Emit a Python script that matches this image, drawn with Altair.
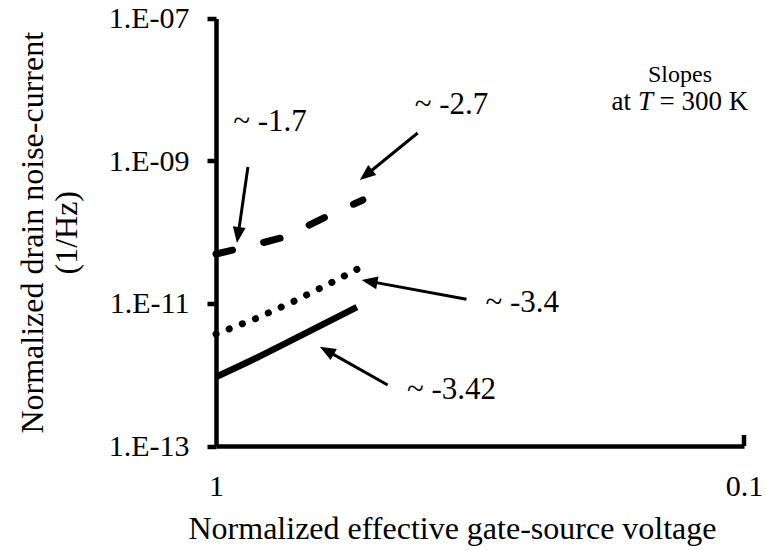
import math
import altair as alt
import pandas as pd

# ---------------- data ----------------
X_TICKS = [1, 0.1]
X_TICK_LABELS = ["1", "0.1"]
Y_TICKS = [1e-13, 1e-11, 1e-9, 1e-7]
Y_TICK_LABELS = ["1.E-13", "1.E-11", "1.E-09", "1.E-07"]

DASHED_X = [1.0, 0.862, 0.741, 0.609, 0.527]
DASHED_Y = [4.95e-11, 6.41e-11, 8.57e-11, 1.75e-10, 2.84e-10]
DOTTED_X = [1.0, 0.838, 0.709, 0.60, 0.535]
DOTTED_Y = [3.73e-12, 6.2e-12, 1.09e-11, 2.02e-11, 3.15e-11]
SOLID_X = [1.0, 0.862, 0.75, 0.541]
SOLID_Y = [9.3e-13, 1.56e-12, 2.61e-12, 8.9e-12]

SLOPE_LABELS = ["~ -1.7", "~ -2.7", "~ -3.4", "~ -3.42"]
LABEL_X = [0.790, 0.358, 0.263, 0.358]
LABEL_Y = [3.56e-9, 6.11e-9, 1.02e-11, 6.1e-13]
ARROW_TAIL_X = [0.870, 0.415, 0.3354, 0.473]
ARROW_TAIL_Y = [8.24e-10, 2.47e-9, 1.15e-11, 7.18e-13]
ARROW_TIP_X = [0.9127, 0.534, 0.530, 0.636]
ARROW_TIP_Y = [7.06e-11, 5.41e-10, 2.14e-11, 2.48e-12]

NOTE_X = 0.1322
NOTE_Y1 = 1.61e-8
NOTE_Y2 = 6.73e-9

X_TITLE = "Normalized effective gate-source voltage"
Y_TITLE = ["Normalized drain noise-current", "(1/Hz)"]

# ---------------- layout ----------------
W, H = 528, 427.5
FONT = "Liberation Serif"
PX_X = W / 1.0      # px per decade on x (1 decade)
PX_Y = H / 6.0      # px per decade on y (6 decades)
HEAD_R = 8          # arrow-head half length in px

def to_px(x, y):
    return -math.log10(x) * PX_X, -math.log10(y) * PX_Y

def from_px(px, py):
    return 10 ** (-px / PX_X), 10 ** (-py / PX_Y)

rows = []
for tx, ty, hx, hy in zip(ARROW_TAIL_X, ARROW_TAIL_Y, ARROW_TIP_X, ARROW_TIP_Y):
    ax, ay = to_px(tx, ty)
    bx, by = to_px(hx, hy)
    dx, dy = bx - ax, by - ay
    L = math.hypot(dx, dy)
    cx, cy = bx - HEAD_R * dx / L, by - HEAD_R * dy / L
    mx, my = from_px(cx, cy)
    ang = math.degrees(math.atan2(dx, -dy)) % 360
    rows.append({"x": tx, "y": ty, "x2": mx, "y2": my, "angle": ang})
arrows = pd.DataFrame(rows)

dashed = pd.DataFrame({"x": DASHED_X, "y": DASHED_Y})
dotted = pd.DataFrame({"x": DOTTED_X, "y": DOTTED_Y})
solid = pd.DataFrame({"x": SOLID_X, "y": SOLID_Y})
labels = pd.DataFrame({"x": LABEL_X, "y": LABEL_Y, "label": SLOPE_LABELS})

def label_expr(vals, labs):
    parts = [f"datum.value == {v!r} ? '{l}'" for v, l in zip(vals, labs)]
    return " : ".join(parts) + " : ''"

XS = alt.Scale(type="log", domain=[0.1, 1], reverse=True)
YS = alt.Scale(type="log", domain=[1e-13, 1e-7])

X_AXIS = alt.Axis(values=X_TICKS, labelExpr=label_expr(X_TICKS, X_TICK_LABELS),
                  tickSize=0, labelPadding=25, labelFlush=False,
                  title=X_TITLE, titleX=236, titleY=82, titleFontSize=32,
                  titleAlign="center", titleBaseline="middle")
Y_AXIS = alt.Axis(values=Y_TICKS, labelExpr=label_expr(Y_TICKS, Y_TICK_LABELS),
                  tickSize=9, labelPadding=18,
                  title=Y_TITLE, titleX=-184, titleY=H / 2, titleAngle=270,
                  titleFontSize=32,
                  titleAlign="center", titleBaseline="middle", titleLineHeight=34)

X = alt.X("x:Q", scale=XS, axis=X_AXIS)
Y = alt.Y("y:Q", scale=YS, axis=Y_AXIS)

line_dashed = alt.Chart(dashed).mark_line(
    color="black", strokeWidth=7, strokeCap="round", strokeDash=[17, 32]
).encode(x=X, y=Y)
line_dotted = alt.Chart(dotted).mark_line(
    color="black", strokeWidth=7, strokeCap="round", strokeDash=[0.1, 14]
).encode(x=X, y=Y)
line_solid = alt.Chart(solid).mark_line(
    color="black", strokeWidth=6.5, strokeCap="butt"
).encode(x=X, y=Y)

shafts = alt.Chart(arrows).mark_rule(color="black", strokeWidth=3).encode(
    x=X, y=Y, x2="x2:Q", y2="y2:Q")
heads = alt.Chart(arrows).mark_point(
    shape="M0,-1L0.8,1L-0.8,1Z", filled=True, size=256, color="black",
    opacity=1, strokeWidth=0
).encode(x=alt.X("x2:Q", scale=XS, axis=X_AXIS), y=alt.Y("y2:Q", scale=YS, axis=Y_AXIS),
         angle=alt.Angle("angle:Q", scale=None))

slope_text = alt.Chart(labels).mark_text(
    font=FONT, fontSize=31, color="black", align="center", baseline="middle"
).encode(x=X, y=Y, text="label:N")

note = pd.DataFrame({"x": [NOTE_X], "y": [NOTE_Y1], "y2": [NOTE_Y2]})
note1 = alt.Chart(note).mark_text(
    font=FONT, fontSize=24, color="black", align="center", baseline="middle"
).encode(x=X, y=Y, text=alt.value("Slopes"))
Y2 = alt.Y("y2:Q", scale=YS, axis=Y_AXIS)
note2a = alt.Chart(note).mark_text(
    font=FONT, fontSize=27, color="black", align="right", baseline="middle", dx=-49
).encode(x=X, y=Y2, text=alt.value("at"))
note2b = alt.Chart(note).mark_text(
    font=FONT, fontSize=27, color="black", align="left", baseline="middle",
    dx=-42, fontStyle="italic"
).encode(x=X, y=Y2, text=alt.value("T"))
note2c = alt.Chart(note).mark_text(
    font=FONT, fontSize=27, color="black", align="left", baseline="middle", dx=-20.5
).encode(x=X, y=Y2, text=alt.value("= 300 K"))

xtick = alt.Chart(pd.DataFrame({"x": [X_TICKS[1]]})).mark_rule(
    color="black", strokeWidth=4.5
).encode(x=X, y=alt.value(H), y2=alt.value(H - 11))

chart = alt.layer(
    line_dashed, line_dotted, line_solid, shafts, heads, slope_text,
    note1, note2a, note2b, note2c, xtick
).properties(
    width=W, height=H,
    autosize=alt.AutoSizeParams(type="none"),
    padding={"left": 216, "top": 18.5, "right": 22, "bottom": 104},
    background="white",
).configure_axis(
    labelFont=FONT, titleFont=FONT, labelFontSize=30, titleFontSize=30,
    titleFontWeight="normal", labelColor="black", titleColor="black",
    domainColor="black", tickColor="black", domainWidth=4.5, tickWidth=4.5,
    grid=False,
).configure_view(stroke=None)

chart.save("out.html", embed_options={"renderer": "svg", "actions": False})
